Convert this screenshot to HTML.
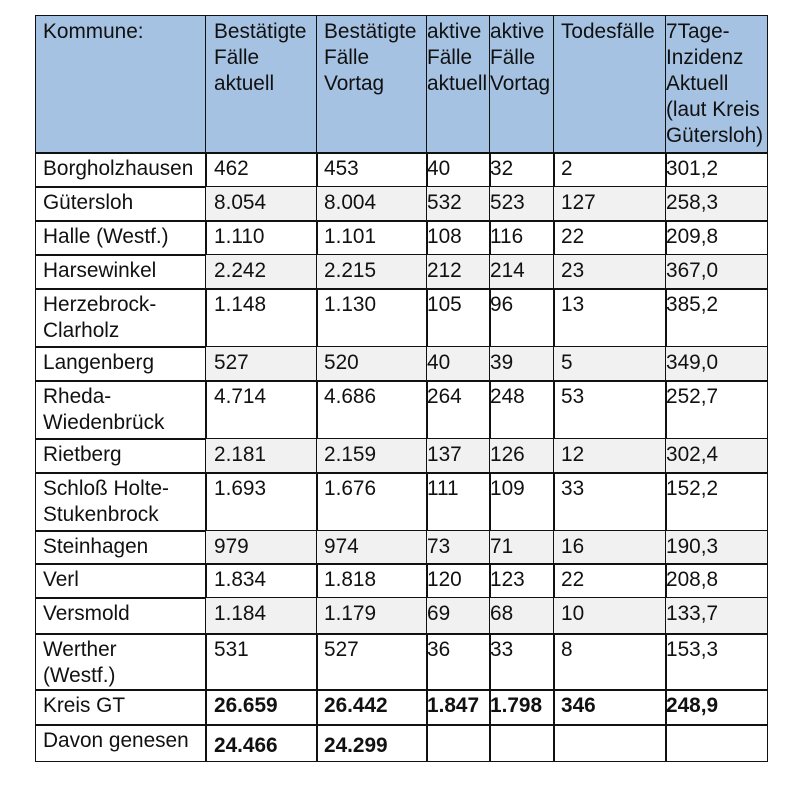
<!DOCTYPE html>
<html><head><meta charset="utf-8"><style>
body{margin:0;width:800px;height:800px;background:#fff;position:relative;font-family:"Liberation Sans",Arial,sans-serif;font-size:20.8px;color:#111;overflow:hidden}
.c{position:absolute;box-sizing:border-box;border:1.6px solid #111;line-height:26px;padding-top:3px;white-space:nowrap;overflow:hidden}
.h{background:#a5c2e3}
.g{background:#f1f1f1}
b{font-weight:bold}
</style></head><body>
<div id="t"></div>
<script>
const X=[35,205,316,426,489,553,665,766];
const P=[7,8,7,0,0,7,0];
const Y=[15,152,186,220,254,288,346,380,438,472,530,563,597,633,689,724,760];
const rows=[
["Kommune:","Bestätigte<br>Fälle<br>aktuell","Bestätigte<br>Fälle<br>Vortag","aktive<br>Fälle<br>aktuell","aktive<br>Fälle<br>Vortag","Todesfälle","7Tage-<br>Inzidenz<br>Aktuell<br>(laut Kreis<br>Gütersloh)"],
["Borgholzhausen","462","453","40","32","2","301,2"],
["Gütersloh","8.054","8.004","532","523","127","258,3"],
["Halle (Westf.)","1.110","1.101","108","116","22","209,8"],
["Harsewinkel","2.242","2.215","212","214","23","367,0"],
["Herzebrock-<br>Clarholz","1.148","1.130","105","96","13","385,2"],
["Langenberg","527","520","40","39","5","349,0"],
["Rheda-<br>Wiedenbrück","4.714","4.686","264","248","53","252,7"],
["Rietberg","2.181","2.159","137","126","12","302,4"],
["Schloß Holte-<br>Stukenbrock","1.693","1.676","111","109","33","152,2"],
["Steinhagen","979","974","73","71","16","190,3"],
["Verl","1.834","1.818","120","123","22","208,8"],
["Versmold","1.184","1.179","69","68","10","133,7"],
["Werther<br>(Westf.)","531","527","36","33","8","153,3"],
["Kreis GT","<b>26.659</b>","<b>26.442</b>","<b>1.847</b>","<b>1.798</b>","<b>346</b>","<b>248,9</b>"],
["Davon genesen","<b>24.466</b>","<b>24.299</b>","","","",""]
];
let h="";
rows.forEach((r,i)=>{r.forEach((v,j)=>{
 let cls="c"+(i==0?" h":(i%2==0&&j>0&&i<14?" g":""));
 let top=Y[i],ht=Y[i+1]-Y[i]+1.6;
 let pt=(i==15&&j>0)?8:3;
 h+=`<div class="${cls}" style="left:${X[j]}px;top:${top}px;width:${X[j+1]-X[j]+1.6}px;height:${ht}px;padding-left:${P[j]}px;padding-top:${pt}px">${v}</div>`;
});});
document.getElementById("t").innerHTML=h;
</script>
</body></html>
